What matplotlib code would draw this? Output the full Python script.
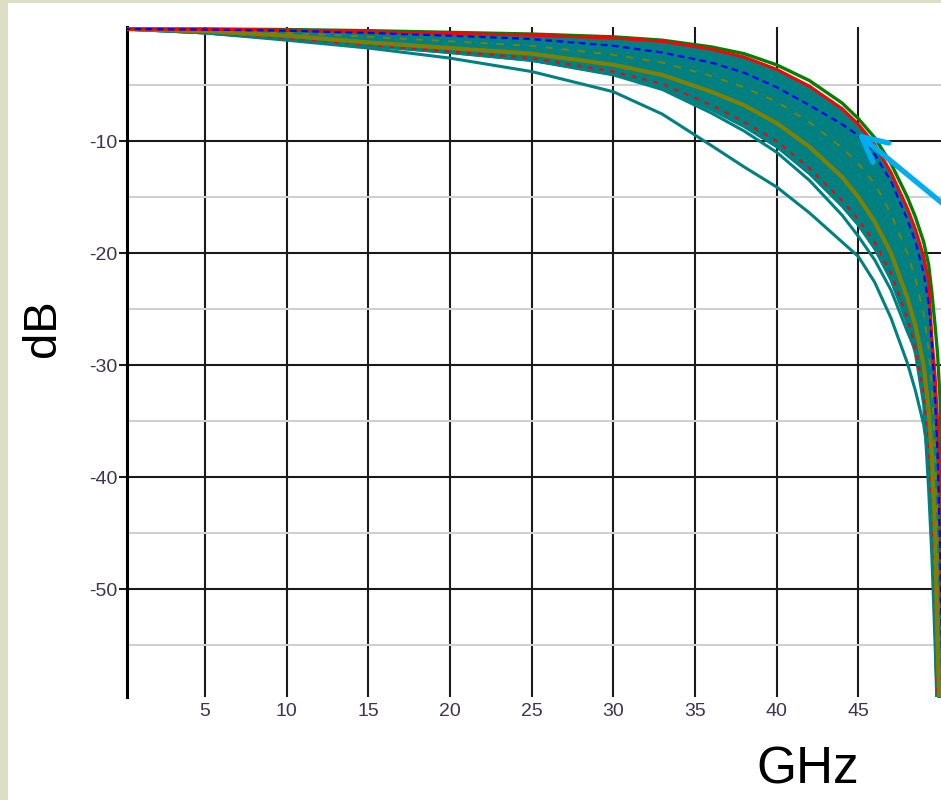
import matplotlib
matplotlib.use("Agg")
import matplotlib.pyplot as plt
from matplotlib.patches import Rectangle

plt.rcParams["axes.unicode_minus"] = False

# frequency grid (GHz) shared by every trace
freq = [0, 5, 10, 15, 20, 25, 30, 33, 36, 38, 40, 42, 44, 45, 46, 47, 48,
        48.5, 49, 49.3, 49.5, 49.7, 49.85, 50.0, 50.2]

# insertion loss traces (dB)
green_top = [0, 0, -0.05, -0.15, -0.3, -0.45, -0.7, -1.0, -1.6, -2.2, -3.2, -4.6, -6.6,
             -8.0, -9.7, -12.0, -15.0, -16.8, -19.0, -21.0, -23.5, -26.5, -29.0, -33.0, -45.0]
red_top = [0, -0.02, -0.1, -0.25, -0.4, -0.55, -0.8, -1.1, -1.8, -2.5, -3.6, -5.1, -7.1,
           -8.5, -10.3, -12.8, -16.0, -17.9, -20.3, -22.5, -27.5, -31.0, -35.0, -40.0, -60.0]
blue_mid = [0, -0.05, -0.15, -0.35, -0.6, -0.9, -1.5, -2.1, -3.0, -3.9, -5.2, -6.8, -8.5,
            -9.5, -11.2, -13.6, -17.0, -19.0, -21.8, -24.5, -28.0, -33.0, -38.0, -46.0, -62.0]
olive_mid = [0, -0.1, -0.35, -0.7, -1.1, -1.5, -2.3, -3.0, -4.2, -5.2, -6.5, -8.3, -10.6,
             -12.0, -13.8, -16.5, -20.0, -22.3, -25.5, -28.5, -32.0, -38.0, -45.0, -58.0, -62.0]
olive_low = [0, -0.2, -0.6, -1.2, -1.7, -2.2, -3.2, -4.1, -5.6, -6.8, -8.4, -10.5, -13.2,
             -15.0, -17.2, -20.0, -24.0, -26.5, -30.0, -34.0, -38.0, -45.0, -55.0, -62.0, -62.0]
red_low = [0, -0.3, -0.8, -1.4, -2.0, -2.6, -3.8, -4.9, -6.8, -8.3, -10.0, -12.4, -15.3,
           -17.0, -19.0, -21.8, -25.8, -28.5, -32.5, -37.0, -42.0, -50.0, -60.0, -62.0, -62.0]
teal_low = [0, -0.35, -0.9, -1.5, -2.1, -2.8, -4.0, -5.2, -7.2, -8.7, -10.5, -12.9, -15.8,
            -17.5, -19.6, -22.4, -26.3, -29.0, -33.5, -41.0, -47.0, -55.0, -62.0, -62.0, -62.0]
teal_out2 = [0, -0.35, -0.9, -1.5, -2.1, -2.8, -4.1, -5.4, -7.5, -9.1, -11.0, -13.5, -16.6,
             -18.5, -20.6, -23.3, -27.0, -28.7, -32.0, -36.5, -42.0, -50.0, -62.0, -62.0, -62.0]
teal_out1 = [0, -0.35, -1.0, -1.7, -2.6, -3.8, -5.6, -7.6, -10.4, -12.3, -14.1, -16.4, -19.0,
             -20.3, -22.6, -25.8, -29.8, -32.3, -35.3, -38.3, -43.5, -53.0, -62.0, -62.0, -62.0]

x_ticks = [5, 10, 15, 20, 25, 30, 35, 40, 45]
y_major = [-50, -40, -30, -20, -10]
y_minor = [-55, -45, -35, -25, -15, -5]

TEAL = "#008080"
W, H = 941, 800

fig = plt.figure(figsize=(W / 100, H / 100), dpi=100, facecolor="#DEDEC4")
fig.patches.append(Rectangle((8 / W, 0), 1 - 8 / W, 1 - 3 / H, transform=fig.transFigure,
                             facecolor="white", edgecolor="none", zorder=-5))

# axes placed in pixels: left 127, right runs off the figure edge, top 27, bottom 697
ax = fig.add_axes([127 / W, 1 - 697 / H, (W - 127) / W, (697 - 27.3) / H])
ax.set_facecolor("white")
ax.set_xlim(0.22, 50.06)
ax.set_ylim(-59.6, 0.15)

# the dense band of traces
ax.fill_between(freq, red_top, teal_low, color=TEAL, lw=0, zorder=3)
ax.plot(freq, teal_out1, color=TEAL, lw=2.2, zorder=3)
ax.plot(freq, teal_out2, color=TEAL, lw=2.2, zorder=3)
ax.plot(freq, teal_low, color=TEAL, lw=2.2, zorder=3)
ax.plot(freq, red_low, color="red", lw=1.6, ls=(0, (2, 3)), zorder=4)
ax.plot(freq, olive_low, color="#808000", lw=3.0, zorder=4)
ax.plot(freq, olive_mid, color="#808000", lw=1.3, ls=(0, (4, 5)), zorder=4)
ax.plot(freq, green_top, color="green", lw=2.4, zorder=3)
ax.plot(freq, red_top, color="red", lw=2.2, zorder=5)
ax.plot(freq, blue_mid, color="blue", lw=1.6, ls=(0, (3, 2)), zorder=5)

# grid
ax.set_xticks(x_ticks)
ax.set_yticks(y_major)
ax.set_yticks(y_minor, minor=True)
ax.set_axisbelow(True)
ax.grid(True, which="major", color="#1a1a1a", lw=1.5)
ax.grid(True, which="minor", axis="y", color="#d0d0d0", lw=1.5)

for side in ["top", "right", "bottom"]:
    ax.spines[side].set_visible(False)
ax.spines["left"].set_color("black")
ax.spines["left"].set_linewidth(2.2)

label_color = "#3e3452"
ax.tick_params(axis="x", length=0, pad=4, labelsize=14, labelcolor=label_color)
ax.tick_params(axis="y", which="major", length=6, width=1.5, color="#1a1a1a", pad=1,
               labelsize=14, labelcolor=label_color)
ax.tick_params(axis="y", which="minor", length=0)
for lab in ax.get_xticklabels() + ax.get_yticklabels():
    lab.set_family("Liberation Sans")

fig.text(43 / W, 1 - 328 / H, "dB", rotation=90, ha="center", va="center",
         fontsize=34, family="Liberation Sans", color="black")
fig.text(808 / W, 1 - 770 / H, "GHz", ha="center", va="center",
         fontsize=37, family="Liberation Sans", color="black")

# pointer arrow coming in from the right edge
ax.annotate("", xy=(857, H - 133), xycoords="figure pixels",
            xytext=(965, H - 222), textcoords="figure pixels",
            arrowprops=dict(arrowstyle="->, head_length=1.0, head_width=0.5",
                            color="#00AEEF", lw=3.8, mutation_scale=18,
                            shrinkA=0, shrinkB=0),
            annotation_clip=False, zorder=10)

fig.savefig("out.png", dpi=100, facecolor=fig.get_facecolor())
